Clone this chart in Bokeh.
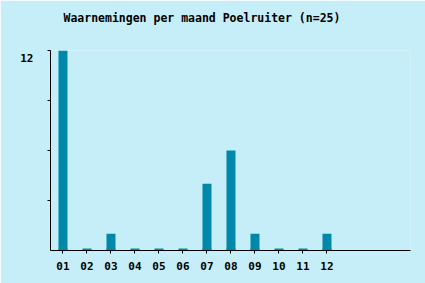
from bokeh.plotting import figure
from bokeh.models import FixedTicker, Range1d, LinearAxis
from bokeh.embed import file_html
from bokeh.resources import INLINE

months = ["01", "02", "03", "04", "05", "06", "07", "08", "09", "10", "11", "12"]
counts = [12, 0, 1, 0, 0, 0, 4, 6, 1, 0, 0, 1]
y_ticks = [3, 6, 9, 12]
y_labelled = {12: "12"}
title_text = "Waarnemingen per maand Poelruiter (n=25)"

BG = "#c6eef8"
BAR = "#0088aa"
FONT = "DejaVu Sans Mono"

xs = list(range(1, len(months) + 1))
x0, x1 = 0.48, 15.48
ymax = 12
label_shift = 0.42   # y labels sit a little below their tick
title_pos = 6.79     # horizontal centre of the title, in x units

p = figure(width=425, height=283, output_backend="svg", toolbar_location=None,
           x_range=Range1d(x0, x1), y_range=Range1d(0, ymax),
           min_border_left=50, min_border_right=15, min_border_top=50,
           min_border_bottom=33)
p.background_fill_color = BG
p.border_fill_color = BG
p.outline_line_color = None
p.grid.visible = False

p.vbar(x=xs, top=counts, bottom=0, width=0.375, color=BAR, line_color=None)
# thin stub drawn for every month (visible for zero counts)
p.rect(x=xs, y=[0] * len(xs), width=0.375, height=4, height_units="screen",
       color=BAR, line_color=None)

p.xaxis.ticker = FixedTicker(ticks=xs)
p.xaxis.major_label_overrides = {x: m for x, m in zip(xs, months)}
p.yaxis.ticker = FixedTicker(ticks=y_ticks)
p.yaxis.major_label_overrides = {t: "" for t in y_ticks}

for ax in (p.xaxis[0], p.yaxis[0]):
    ax.axis_line_color = "black"
    ax.axis_line_width = 1
    ax.major_tick_line_color = "black"
    ax.major_tick_in = 0
    ax.major_tick_out = 3
    ax.minor_tick_line_color = None
    ax.major_label_text_font = FONT
    ax.major_label_text_font_style = "bold"
    ax.major_label_text_font_size = "11px"
    ax.major_label_text_color = "black"

p.xaxis.major_label_standoff = 8
p.yaxis.major_label_standoff = 0

# label-only axis for the "12" tick label
p.extra_y_ranges = {"lab": Range1d(label_shift, ymax + label_shift)}
lab_axis = LinearAxis(y_range_name="lab", ticker=FixedTicker(ticks=list(y_labelled)),
                      major_label_overrides=y_labelled,
                      axis_line_color=None, major_tick_line_color=None,
                      minor_tick_line_color=None, major_tick_in=0, major_tick_out=0,
                      major_label_standoff=14,
                      major_label_text_font=FONT, major_label_text_font_style="bold",
                      major_label_text_font_size="11px", major_label_text_color="black")
p.add_layout(lab_axis, "left")

# chart title, carried by a line-less axis above the plot
title_axis = LinearAxis(ticker=FixedTicker(ticks=[title_pos]),
                        major_label_overrides={title_pos: title_text},
                        axis_line_color=None, major_tick_line_color=None,
                        minor_tick_line_color=None, major_tick_in=0, major_tick_out=0,
                        major_label_standoff=26,
                        major_label_text_font=FONT, major_label_text_font_style="bold",
                        major_label_text_font_size="11.5px", major_label_text_color="black")
p.add_layout(title_axis, "above")

open("out.html", "w").write(file_html(p, INLINE))
